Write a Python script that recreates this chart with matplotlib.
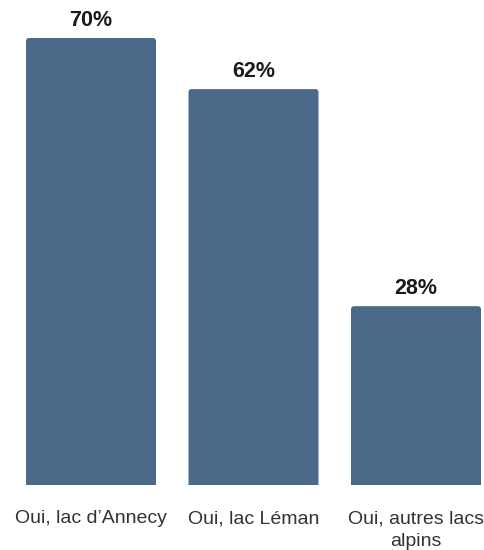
import matplotlib.pyplot as plt
from matplotlib.patches import FancyBboxPatch

categories = ["Oui, lac d\u2019Annecy", "Oui, lac L\u00e9man", "Oui, autres lacs\nalpins"]
values = [70, 62, 28]

BAR_COLOR = '#4b6a8a'

plt.rcParams['font.family'] = ['Liberation Sans', 'DejaVu Sans']

fig = plt.figure(figsize=(4.85, 5.5), dpi=100)
ax = fig.add_axes([26 / 485, 65 / 550, 455 / 485, 447 / 550])

x = list(range(len(categories)))
# invisible bars give the geometry, rounded patches are drawn on top
bars = ax.bar(x, values, width=0.8, color='none')

ax.set_xlim(-0.4, 2.4)
ax.set_ylim(0, 70)

px_x = 455 / 2.8
px_y = 447 / 70
r = 3 / px_x
for b, v in zip(bars, values):
    # start below the baseline so the axes clip away the lower rounded corners
    ax.add_patch(FancyBboxPatch((b.get_x(), -1), b.get_width(), v + 1,
                                boxstyle=f"round,pad=0,rounding_size={r}",
                                mutation_aspect=px_x / px_y,
                                facecolor=BAR_COLOR, edgecolor='none'))

for xi, v in zip(x, values):
    ax.annotate(f"{v}%", (xi, v), xytext=(0, 5), textcoords='offset points',
                ha='center', va='bottom', fontsize=15.5, fontweight='bold',
                color='#1a1a1a', annotation_clip=False)

ax.set_xticks(x)
ax.set_xticklabels(categories, fontsize=14, color='#333333', linespacing=1.45)
ax.tick_params(axis='x', length=0, pad=18)
ax.set_yticks([])
for s in ax.spines.values():
    s.set_visible(False)

fig.savefig('out.png', dpi=100)
